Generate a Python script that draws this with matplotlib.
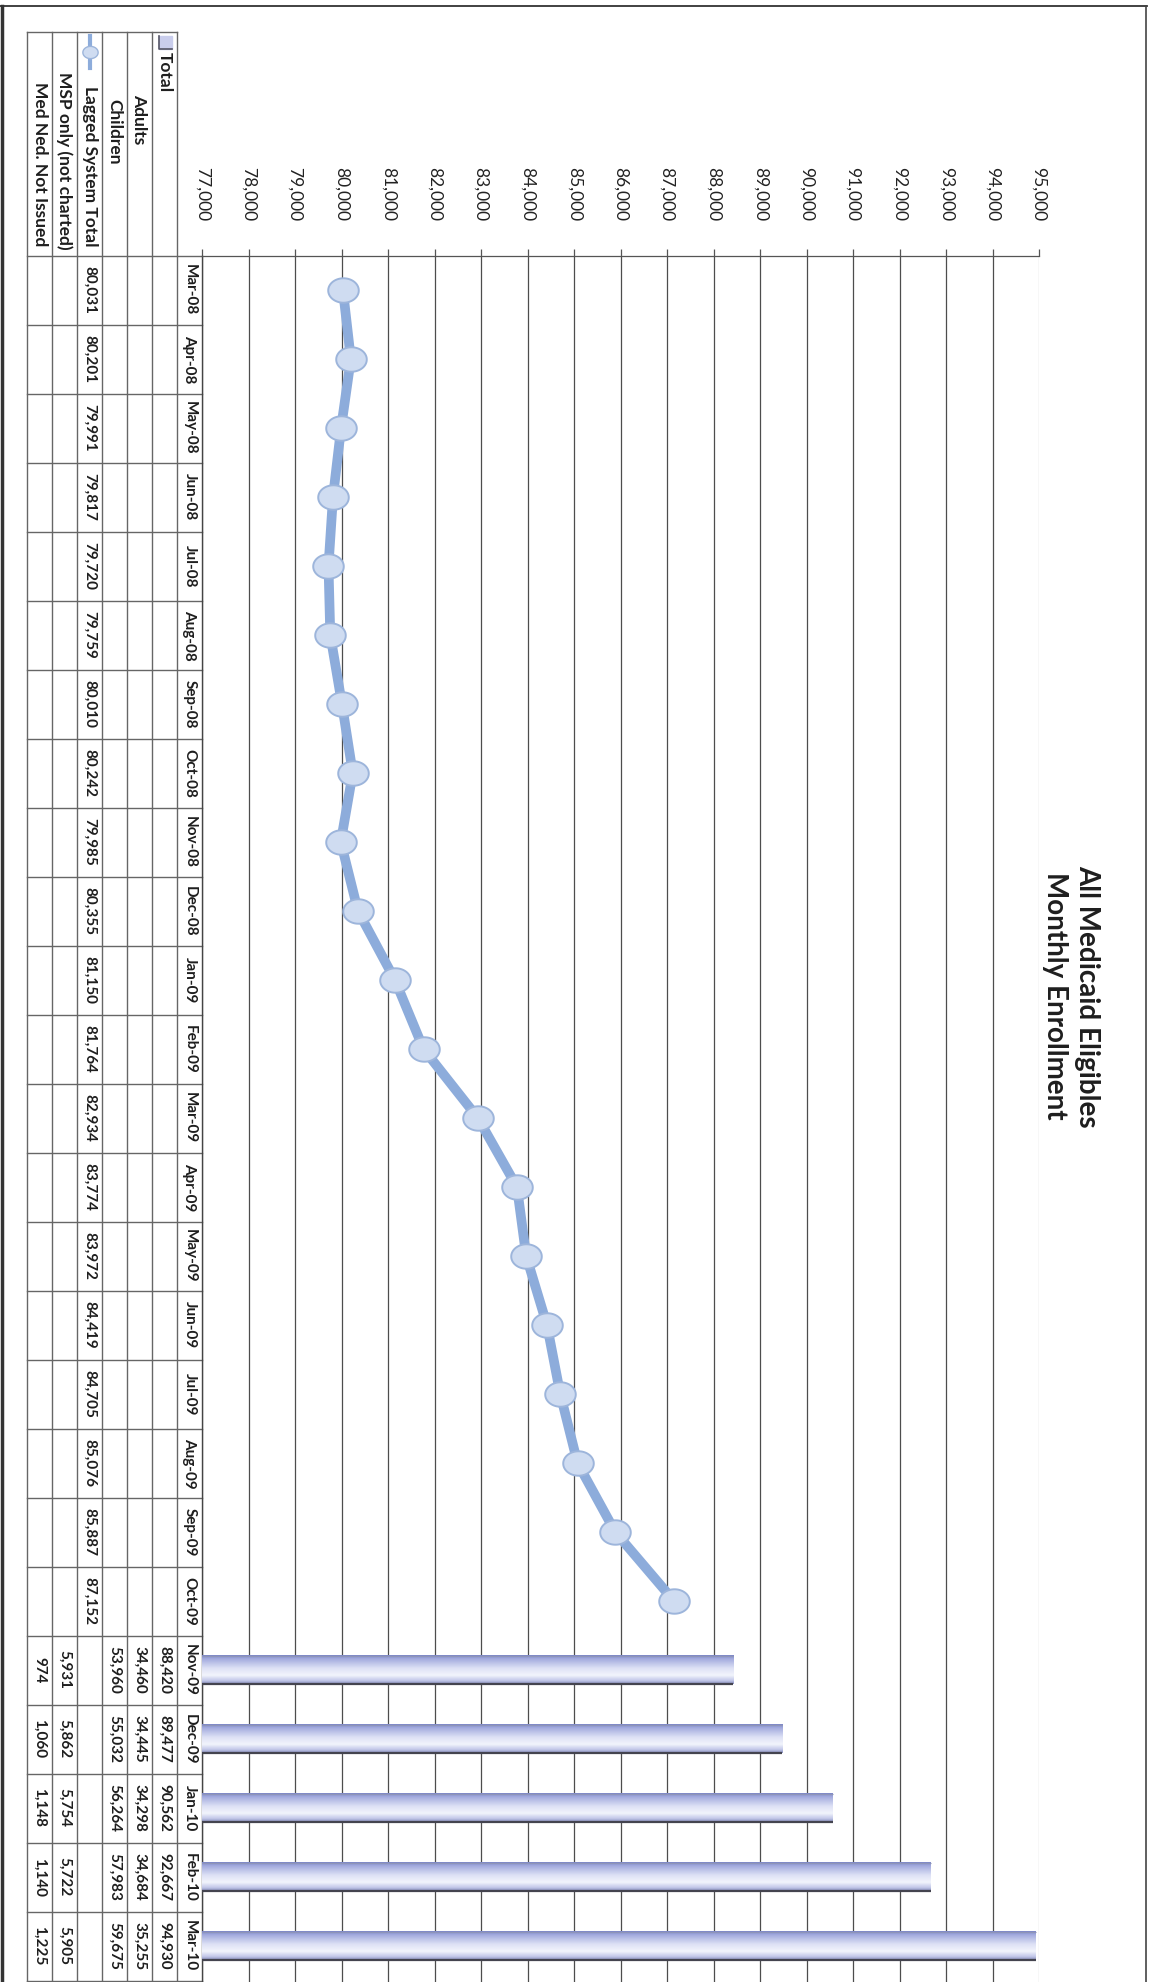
import matplotlib
matplotlib.use('Agg')
import matplotlib.pyplot as plt
import numpy as np
from matplotlib.path import Path
from matplotlib.colors import LinearSegmentedColormap

plt.rcParams['font.family'] = ['Lato', 'DejaVu Sans']

# ---------------- data ----------------
months = ['Mar-08', 'Apr-08', 'May-08', 'Jun-08', 'Jul-08', 'Aug-08', 'Sep-08',
          'Oct-08', 'Nov-08', 'Dec-08', 'Jan-09', 'Feb-09', 'Mar-09', 'Apr-09',
          'May-09', 'Jun-09', 'Jul-09', 'Aug-09', 'Sep-09', 'Oct-09', 'Nov-09',
          'Dec-09', 'Jan-10', 'Feb-10', 'Mar-10']
lagged_total = [80031, 80201, 79991, 79817, 79720, 79759, 80010, 80242, 79985,
                80355, 81150, 81764, 82934, 83774, 83972, 84419, 84705, 85076,
                85887, 87152]
total = [88420, 89477, 90562, 92667, 94930]
adults = [34460, 34445, 34298, 34684, 35255]
children = [53960, 55032, 56264, 57983, 59675]
msp_only = [5931, 5862, 5754, 5722, 5905]
med_ned = [974, 1060, 1148, 1140, 1225]
value_ticks = [77000, 78000, 79000, 80000, 81000, 82000, 83000, 84000, 85000,
               86000, 87000, 88000, 89000, 90000, 91000, 92000, 93000, 94000, 95000]
title_lines = ['All Medicaid Eligibles', 'Monthly Enrollment']
row_labels = ['Total', 'Adults', 'Children', 'Lagged System Total',
              'MSP only (not charted)', 'Med Ned. Not Issued']

# ---------------- layout ----------------
W, H = 1149, 1982
TOP = 255.5          # px, top edge of plot (start of first month)
MW = 69.0            # px per month
X0, X1 = 202, 1039   # px of 77,000 and 95,000

fig = plt.figure(figsize=(W / 100, H / 100), dpi=100)
fig.patch.set_facecolor('white')

# overlay in pixel coordinates for table / title / frame
oax = fig.add_axes([0, 0, 1, 1])
oax.set_xlim(0, W)
oax.set_ylim(H, 0)
oax.axis('off')
oax.patch.set_alpha(0)

def my(m):
    return TOP + (m + 0.5) * MW

ax = fig.add_axes([X0 / W, 0, (X1 - X0) / W, (H - TOP) / H])
ax.patch.set_alpha(0)
xlim = (value_ticks[0], value_ticks[-1])
ylim = (-0.5 + (H - TOP) / MW, -0.5)

# grid + axis
ax.set_xticks(value_ticks)
ax.set_xticklabels([f'{v:,}' for v in value_ticks])
ax.xaxis.set_ticks_position('top')
ax.tick_params(axis='x', length=5, width=0.9, color='#555555', pad=20,
               labelsize=12.5, labelrotation=270, labelcolor='#222222')
ax.set_yticks([])
ax.grid(axis='x', color='#4d4d4d', lw=0.9)
ax.set_axisbelow(True)
ax.xaxis.get_gridlines()[-1].set_color('#c0c0c0')
for s in ['right', 'bottom']:
    ax.spines[s].set_visible(False)
ax.spines['top'].set_color('#555555')
ax.spines['left'].set_color('#444444')
ax.spines['top'].set_linewidth(0.9)
ax.spines['left'].set_linewidth(1.0)

# bars (Total) with cylinder-like gradient
bar_cmap = LinearSegmentedColormap.from_list('bar', [
    (0.0, '#7d87c6'), (0.12, '#a2aade'), (0.45, '#dde1f5'),
    (0.7, '#f2f4fc'), (0.88, '#c4c9ea'), (1.0, '#8a90bd')])
grad = np.linspace(0, 1, 64).reshape(-1, 1)
bw = 0.41
start = months.index('Nov-09')
for i, v in enumerate(total):
    yi = start + i
    ax.imshow(grad, cmap=bar_cmap, extent=(xlim[0], v, yi + bw / 2, yi - bw / 2),
              aspect='auto', origin='upper', interpolation='bilinear', zorder=3)
    ax.hlines(yi + bw / 2, xlim[0], v, color='#44444f', lw=1.6, zorder=4)
    ax.hlines(yi - bw / 2, xlim[0], v, color='#8e94b8', lw=0.8, zorder=4)

# lagged system total line
t = np.linspace(0, 2 * np.pi, 80)
ell = Path(np.c_[1.25 * np.cos(t), np.sin(t)], closed=True)
ax.plot(lagged_total, np.arange(len(lagged_total)), color='#8dacdb', lw=7,
        solid_capstyle='round', zorder=5)
ax.plot(lagged_total, np.arange(len(lagged_total)), ls='none', marker=ell, ms=22,
        mfc='#cfdcf1', mec='#9db5db', mew=1.4, zorder=6)

ax.set_xlim(*xlim)
ax.set_ylim(*ylim)

# ---------------- data table ----------------
rows_x = [202, 177, 152, 127, 102, 77, 52, 27]   # row boundaries (px)
centers = [(rows_x[k] + rows_x[k + 1]) / 2 for k in range(7)]
tcol = '#666666'
tbl_top = 32
# row separators
for k, xb in enumerate(rows_x[1:]):
    oax.plot([xb, xb], [tbl_top, H], color=tcol, lw=1.0)
# month boundaries
for m in range(len(months) + 1):
    yb = TOP + m * MW
    oax.plot([rows_x[-1], rows_x[0]], [yb, yb], color=tcol, lw=1.0)
oax.plot([rows_x[-1], rows_x[1]], [tbl_top, tbl_top], color=tcol, lw=1.0)

txt = dict(rotation=270, ha='center', va='center', fontweight='bold',
           color='#1e1e1e', fontsize=11)
for m, lab in enumerate(months):
    oax.text(centers[0], my(m), lab, **txt)

series_rows = [(total, start), (adults, start), (children, start),
               (lagged_total, 0), (msp_only, start), (med_ned, start)]
for k, (vals, s0) in enumerate(series_rows):
    for j, v in enumerate(vals):
        oax.text(centers[k + 1], my(s0 + j), f'{v:,}', **txt)

# (anchor y, alignment) for each row label
lab_pos = [(52, 'left'), (94, 'left'), (99, 'left'),
           (246, 'right'), (250, 'right'), (246, 'right')]
for k, lab in enumerate(row_labels):
    ya, al = lab_pos[k]
    oax.text(centers[k + 1], ya, lab, rotation=270, rotation_mode='anchor',
             ha=al, va='center', fontweight='bold', fontsize=12.5, color='#1e1e1e')

# legend keys
kx = centers[1]
oax.fill([kx - 6, kx + 7, kx + 7, kx - 6], [36, 36, 49, 49], color='#c9cdec')
oax.plot([kx - 6, kx - 6, kx + 7], [36, 49, 49], color='#555566', lw=1.2)
lx = centers[4]
oax.plot([lx, lx], [36, 68], color='#8dacdb', lw=3)
oax.plot([lx], [52], ls='none', marker=ell, ms=11, mfc='#cfdcf1', mec='#9db5db')

# ---------------- title ----------------
oax.text(1087, 996, title_lines[0], rotation=270, ha='center', va='center',
         fontweight='bold', fontsize=20, color='#1e1e1e')
oax.text(1055, 996, title_lines[1], rotation=270, ha='center', va='center',
         fontweight='bold', fontsize=20, color='#1e1e1e')

# ---------------- frame ----------------
oax.plot([0, 1147], [6, 6], color='#333333', lw=1.3)
oax.plot([1146, 1146], [6, H], color='#444444', lw=1.2)
oax.plot([1.5, 1.5], [6, H], color='#333333', lw=2.5)

fig.savefig('out.png', dpi=100, facecolor='white')
